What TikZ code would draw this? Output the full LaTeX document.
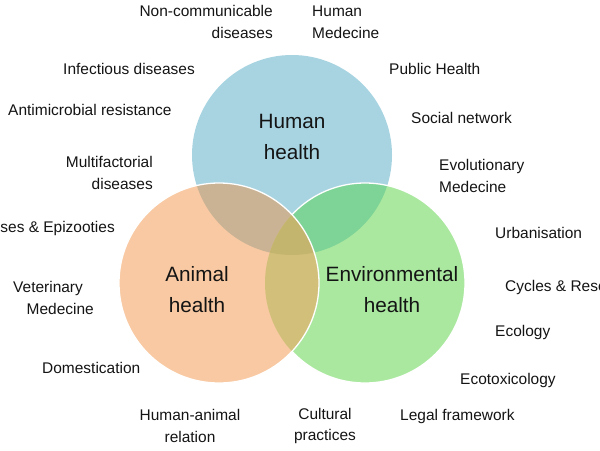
\documentclass[tikz,border=0pt]{standalone}
\usepackage{fontspec}
\setmainfont{Liberation Sans}
\definecolor{cB}{RGB}{168,212,226}
\definecolor{cO}{RGB}{248,201,162}
\definecolor{cG}{RGB}{170,232,160}
\definecolor{cHO}{RGB}{202,179,148}
\definecolor{cHG}{RGB}{126,212,150}
\definecolor{cOG}{RGB}{210,192,122}
\definecolor{cHOG}{RGB}{196,181,110}
\definecolor{txt}{RGB}{20,20,20}
\tikzset{
  lbl/.style={font=\fontsize{13.2pt}{18.7pt}\selectfont, text=txt, inner sep=0pt},
  big/.style={font=\fontsize{17.7pt}{26.4pt}\selectfont, text=txt, inner sep=0pt, align=center},
  rim/.style={draw=white, line width=1.1pt}
}
\begin{document}
\begin{tikzpicture}[x=0.03cm,y=-0.03cm]
\useasboundingbox (0,0) rectangle (600,450);
\clip (0,0) rectangle (600,450);
\coordinate (H) at (292,155);
\coordinate (A) at (219,283);
\coordinate (E) at (365,283);
% base circles
\fill[cB] (H) circle (100);
\fill[cG] (E) circle (100);
\fill[cO] (A) circle (100);
% pairwise overlaps
\begin{scope}
  \clip (H) circle (100);
  \fill[cHG] (E) circle (100);
  \fill[cHO] (A) circle (100);
\end{scope}
\begin{scope}
  \clip (A) circle (100);
  \fill[cOG] (E) circle (100);
\end{scope}
\begin{scope}
  \clip (H) circle (100);
  \clip (A) circle (100);
  \fill[cHOG] (E) circle (100);
\end{scope}
% white rims
\begin{scope}[even odd rule]
  \clip (0,0) rectangle (600,450) (A) circle (100);
  \draw[rim] (E) circle (100);
\end{scope}
\draw[rim] (A) circle (100);
% circle titles
\node[big] (th) at (292,137) {Human\\health};
\node[big] (ta) at (197,290) {Animal\\health};
\node[big] (te) at (392,290) {Environmental\\health};
% labels
\node[lbl, anchor=east, align=right] (l1) at (273,22) {Non-communicable\\diseases};
\node[lbl, anchor=west, align=left] (l2) at (312,22) {Human\\Medecine};
\node[lbl, anchor=west] (l3) at (63,69) {Infectious diseases};
\node[lbl, anchor=west] (l4) at (8,110) {Antimicrobial resistance};
\node[lbl, anchor=east, align=right] (l5) at (153,173) {Multifactorial\\diseases};
\node[lbl, anchor=east] (l6) at (115,228) {Zoonoses \& Epizooties};
\node[lbl, anchor=west, align=left] (l7) at (13,298) {Veterinary\\\hspace*{11.5pt}Medecine};
\node[lbl, anchor=west] (l8) at (42,368) {Domestication};
\node[lbl, align=center] (l9) at (190,426) {Human-animal\\relation};
\node[lbl, align=center] (l10) at (325,426) {Cultural\\practices};
\node[lbl, anchor=west] (l11) at (400,416) {Legal framework};
\node[lbl, anchor=west] (l12) at (460,380) {Ecotoxicology};
\node[lbl, anchor=west] (l13) at (495,332) {Ecology};
\node[lbl, anchor=west] (l14) at (505,287) {Cycles \& Reservoirs};
\node[lbl, anchor=west] (l15) at (495,233) {Urbanisation};
\node[lbl, anchor=west, align=left] (l16) at (439,176) {Evolutionary\\Medecine};
\node[lbl, anchor=west] (l17) at (411,118) {Social network};
\node[lbl, anchor=west] (l18) at (389,69) {Public Health};
\end{tikzpicture}
\end{document}
